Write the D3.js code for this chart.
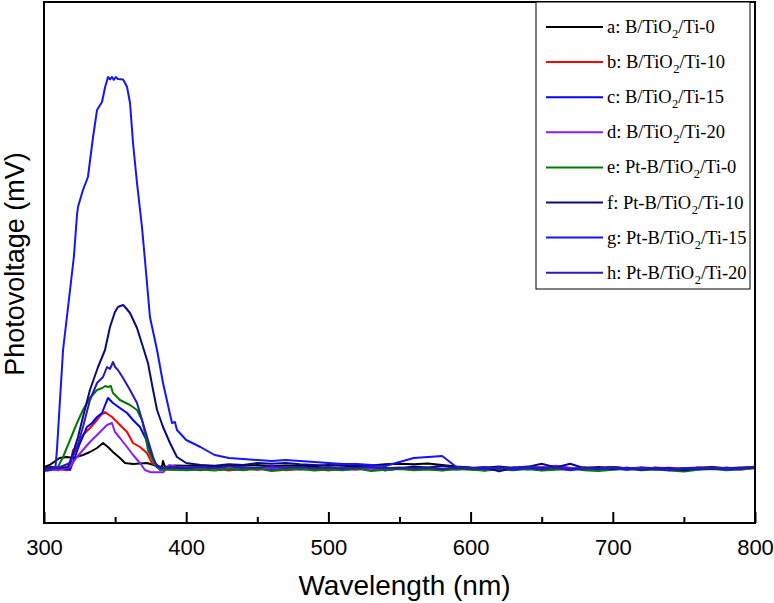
<!DOCTYPE html>
<html>
<head>
<meta charset="utf-8">
<script src="https://cdn.jsdelivr.net/npm/d3@7/dist/d3.min.js"></script>
<style>
  html, body { margin: 0; padding: 0; background: #fff; }
  svg { display: block; }
</style>
</head>
<body>
<svg id="chart" width="774" height="603"></svg>
<script>
// ---------- DATA ----------
const xTicks = [300, 400, 500, 600, 700, 800];
const xMinorTicks = [350, 450, 550, 650, 750];
const xTitle = "Wavelength (nm)";
const yTitle = "Photovoltage (mV)";

const seriesNames = ["a", "b", "c", "d", "e", "f", "g", "h"];
const seriesLabels = [
  ["a: B/TiO", "/Ti-0"],
  ["b: B/TiO", "/Ti-10"],
  ["c: B/TiO", "/Ti-15"],
  ["d: B/TiO", "/Ti-20"],
  ["e: Pt-B/TiO", "/Ti-0"],
  ["f: Pt-B/TiO", "/Ti-10"],
  ["g: Pt-B/TiO", "/Ti-15"],
  ["h: Pt-B/TiO", "/Ti-20"]
];
const seriesColors = ["#000000", "#ff0000", "#0000ff", "#8b1cff", "#007a00", "#0a0a80", "#1414ff", "#2a18b8"];

// peak region (wavelength nm, photovoltage, arbitrary mV)
const peakA = [[300,0.5],[304,1],[311,2.75],[316,3],[320.4,2.75],[327.4,3.5],[332.3,4.25],[337.3,5.25],[341.5,6.5],[345,5.5],[348.5,4.25],[353.4,2.75],[357,1.5],[362.6,1.25],[372.4,1.5],[379.5,0.75],[383,0.5],[383.7,2],[385.1,0.5],[392,0.9]];
const peakB = [[300,0],[310,0],[316,-0.3],[318.3,0.5],[320.4,4.75],[323.2,5.5],[327.4,8.5],[332.3,10.25],[337.3,12.25],[340,13.5],[342.9,14.25],[347.8,13],[352,11.5],[358.4,9.25],[362.6,6.5],[367.5,5.5],[372.4,4],[375.9,1.5],[380.2,0.25],[390,-0.2]];
const peakC = [[300,-0.3],[310,0],[315,0],[318.3,-0.25],[321.8,3],[325.3,6.5],[330.2,10.5],[333.8,11.5],[337.3,13],[340.8,14],[343,16],[345,17.75],[348.5,16.5],[353.4,15.25],[358.4,14],[362.6,12.25],[367.5,10.5],[371,8],[374.5,4.75],[378.1,1.5],[381.6,0.25],[390,0.1]];
const peakD = [[300,0],[310,-0.3],[318.3,0.5],[323.2,3],[327.4,4.75],[332.3,6.75],[337.3,8.5],[344.3,11],[347.8,11.5],[349.9,9.25],[353.4,7.75],[358.4,5.5],[362.6,3.5],[367.5,1.5],[371,-0.25],[375,-0.8],[384,-0.8],[388,1],[393,0.6]];
const peakE = [[300,0],[305,0.3],[309.8,0.5],[313.4,3],[318.3,7.25],[323.2,11.5],[327.4,14.75],[332.3,17.75],[337.3,19.75],[341,20.25],[343,20.75],[345,20.5],[347,20.75],[348.5,19],[353.4,17.25],[360.5,16],[365.4,14.75],[368.9,12.25],[371,9],[373.1,4.75],[378.1,1],[381.6,-0.25],[390,-0.1]];
const peakF = [[300,0.3],[305,0.5],[310,0.3],[316.9,0.5],[320.4,4],[323.9,8],[327.4,13],[332.3,19.75],[338,25.5],[342.9,29.75],[346.4,35.5],[349.9,39.25],[352,40.5],[355.6,41],[357,40.5],[360.5,39],[365.4,35.25],[369.6,30.5],[373.1,26.5],[376.7,19.75],[379.5,14.75],[383.7,10.5],[388.6,6.5],[393.5,3]];
const peakG = [[300,-0.5],[304,-0.3],[308,0.3],[309.1,4.75],[313.4,29.75],[321,53],[323.2,63.5],[323.9,65.5],[327.4,69.75],[330.9,73],[334.5,83],[337.3,89.75],[340.8,91.75],[343,95.5],[345,98],[346.4,97.4],[347.8,98],[349,97.3],[350.5,98],[352,97.5],[355.6,97.4],[357,96.5],[358.4,95.5],[360.5,91.5],[362.6,81.5],[365.4,71.5],[368.9,60.5],[371,52.25],[374.5,38],[379.5,29.75],[383.7,21.5],[390,11.5],[392.1,11.75],[393.5,9.75]];
const peakH = [[300,0],[310,0.3],[318.3,1.5],[323.2,5.5],[327.4,10.5],[332.3,17.25],[337.3,21.5],[341.5,23],[344.3,25.5],[346.4,25],[348.5,26.75],[350,25.5],[352,24.75],[355.6,22.75],[360.5,19.75],[365.4,16.5],[369.6,11.5],[373.1,7.25],[376.7,3],[379.5,0.5],[385,0.3],[392,0.5]];

// tail region values on a shared wavelength grid
const tailWavelengths = [400,410,420,430,440,450,460,470,480,490,500,510,520,530,540,550,560,570,580,590,600,610,620,630,640,650,660,670,680,690,700,710,720,730,740,750,760,770,780,790,800];
const tailA = [0.8,0.9,0.7,0.9,0.8,1,0.7,0.9,0.8,0.7,1,0.8,0.6,0.9,1.2,1.3,1.2,1.4,1,0.6,0.4,0.3,0.6,0.2,0.5,0.3,0.6,0.2,0.4,0.3,0.5,0.1,0.4,0.2,0.3,0,0.3,0.5,0.2,0.4,0.5];
const tailB = [0,-0.3,0.2,-0.4,0.1,-0.2,0.3,-0.3,0,0.2,-0.4,0.1,-0.2,0.3,-0.3,0.1,-0.1,0.2,-0.3,0.1,0,-0.4,0.3,-0.1,0.2,-0.3,0.1,0.3,-0.2,0.1,0,0.3,-0.2,0.4,0.1,-0.2,0.3,0,0.2,-0.1,0.3];
const tailC = [0.2,-0.1,0.3,0,-0.2,0.2,0,0.3,-0.1,0.1,0.3,-0.2,0,0.2,-0.3,0.1,0.3,0,-0.2,0.2,0.1,-0.3,0.2,0.4,-0.1,0.2,0,-0.2,0.3,0,0.2,-0.1,0.3,0,0.2,-0.2,0.1,0.3,0,0.2,0.4];
const tailD = [0.5,0.2,0.4,0,0.3,-0.1,0.2,0.4,0,0.2,-0.2,0.3,0,0.1,-0.3,0.2,0,0.3,0.1,-0.2,0.2,0.4,0,0.3,0.1,0.5,0.8,0.3,0.2,-0.1,0.2,0,0.3,-0.2,0.1,0.2,-0.1,0.3,0,0.2,0.4];
const tailE = [-0.3,-0.1,-0.4,0,-0.3,0.1,-0.5,-0.2,0,-0.4,-0.1,-0.3,0.1,-0.5,-0.2,0,-0.3,-0.1,-0.4,0,-0.2,-0.4,-0.1,-0.3,0,-0.4,-0.2,0.1,-0.3,-0.5,-0.2,0,-0.3,-0.1,-0.4,-0.6,-0.2,0,-0.3,-0.1,0.2];
const tailF = [1.5,1,0.8,1.2,1,1.5,1.3,1.5,1.2,1,0.8,1,0.9,0.5,0.3,0.2,0.6,0.4,0.8,0.3,0.1,0.4,-0.6,0.3,0.5,1.3,0.4,1.3,0.2,0.5,0,0.3,-0.2,0.2,0.1,-0.3,0.2,0,0.3,0.1,0.4];
const tailG = [7.25,5.5,3.5,2.75,2.5,2.25,2,2.25,2,1.75,1.5,1.25,1.25,1,0.75,1.75,2.75,3,3.25,0.5,0.3,0,0.5,-0.2,0.3,0,0.4,-0.3,0.2,0,0.3,-0.2,0.2,0,-0.3,0.2,0,0.3,-0.1,0.2,0.5];
const tailH = [0.3,0.5,0.2,0.6,0.3,0.4,0.7,0.3,0.5,0.2,0.4,0.1,0.3,0.5,0.2,0.4,0.1,0.3,0,0.4,0.2,0.5,0.1,0.3,0.6,0.2,0.4,0,0.3,0.1,0.5,0.2,0,0.3,-0.1,0.2,0.4,0.1,0.3,0,0.6];

const peaks = [peakA, peakB, peakC, peakD, peakE, peakF, peakG, peakH];
const tails = [tailA, tailB, tailC, tailD, tailE, tailF, tailG, tailH];

// ---------- CHART ----------
const svg = d3.select("#chart");
const plot = { left: 44, right: 755, top: 2, bottom: 523 };

const x = d3.scaleLinear().domain([300, 800]).range([plot.left, plot.right]);
const y = d3.scaleLinear().domain([-13.5, 116.75]).range([plot.bottom, plot.top]);

const series = seriesNames.map((n, i) => ({
  name: n,
  color: seriesColors[i],
  points: peaks[i].concat(tailWavelengths.map((w, j) => [w, tails[i][j]]))
}));

svg.append("clipPath").attr("id", "clip")
  .append("rect").attr("x", plot.left).attr("y", plot.top)
  .attr("width", plot.right - plot.left).attr("height", plot.bottom - plot.top);

const line = d3.line().x(d => x(d[0])).y(d => y(d[1]));

svg.append("g").attr("clip-path", "url(#clip)")
  .selectAll("path").data(series).join("path")
  .attr("d", d => line(d.points))
  .attr("fill", "none")
  .attr("stroke", d => d.color)
  .attr("stroke-width", 2)
  .attr("stroke-linejoin", "round");

// x axis major ticks
const xAxis = d3.axisBottom(x).tickValues(xTicks).tickFormat(d3.format("d"))
  .tickSizeInner(-11).tickSizeOuter(0).tickPadding(16);
const gx = svg.append("g").attr("transform", `translate(0,${plot.bottom})`).call(xAxis);
gx.select(".domain").remove();
gx.selectAll(".tick line").attr("stroke", "#000").attr("stroke-width", 2);
gx.selectAll(".tick text").attr("font-family", "'Liberation Sans', Arial, sans-serif")
  .attr("font-size", 22).attr("fill", "#000");

// x axis minor ticks
const xMinor = d3.axisBottom(x).tickValues(xMinorTicks).tickFormat("")
  .tickSizeInner(-6).tickSizeOuter(0);
const gxm = svg.append("g").attr("transform", `translate(0,${plot.bottom})`).call(xMinor);
gxm.select(".domain").remove();
gxm.selectAll(".tick line").attr("stroke", "#000").attr("stroke-width", 2);

// frame
svg.append("rect")
  .attr("x", plot.left).attr("y", plot.top)
  .attr("width", plot.right - plot.left).attr("height", plot.bottom - plot.top)
  .attr("fill", "none").attr("stroke", "#000").attr("stroke-width", 2);

// axis titles
svg.append("text")
  .attr("x", (plot.left + plot.right) / 2 + 5).attr("y", 595)
  .attr("text-anchor", "middle")
  .attr("font-family", "'Liberation Sans', Arial, sans-serif")
  .attr("font-size", 28).attr("fill", "#000")
  .text(xTitle);

svg.append("text")
  .attr("transform", "translate(24,264) rotate(-90)")
  .attr("text-anchor", "middle")
  .attr("font-family", "'Liberation Sans', Arial, sans-serif")
  .attr("font-size", 27).attr("fill", "#000")
  .text(yTitle);

// legend
const legend = svg.append("g");
legend.append("rect")
  .attr("x", 536).attr("y", 2).attr("width", 214).attr("height", 287)
  .attr("fill", "#fff").attr("stroke", "#000").attr("stroke-width", 1);

const rowY = i => 27 + i * 35.1;
series.forEach((s, i) => {
  legend.append("line")
    .attr("x1", 546).attr("x2", 603)
    .attr("y1", rowY(i)).attr("y2", rowY(i))
    .attr("stroke", s.color).attr("stroke-width", 2);
  const t = legend.append("text")
    .attr("x", 607).attr("y", rowY(i) + 6)
    .attr("font-family", "'Liberation Serif', 'Times New Roman', serif")
    .attr("font-size", 18.5).attr("fill", "#000");
  t.append("tspan").text(seriesLabels[i][0]);
  t.append("tspan").attr("font-size", 12.5).attr("dy", 5).attr("dx", 0.5).text("2");
  t.append("tspan").attr("dy", -5).text(seriesLabels[i][1]);
});
</script>
</body>
</html>
